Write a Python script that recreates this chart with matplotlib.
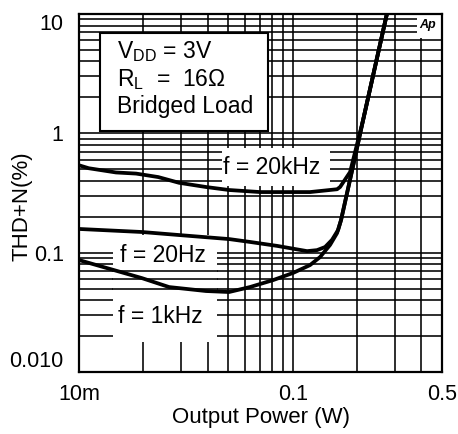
import matplotlib
matplotlib.use("Agg")
import matplotlib.pyplot as plt
from matplotlib.patches import Rectangle
from matplotlib.ticker import NullLocator, FixedLocator

plt.rcParams['font.family'] = ['Liberation Sans', 'DejaVu Sans']
plt.rcParams['mathtext.fontset'] = 'custom'
plt.rcParams['mathtext.rm'] = 'Liberation Sans'
plt.rcParams['mathtext.it'] = 'Liberation Sans:italic'

# ---- data ----
p_20k = [0.01, 0.0111, 0.0149, 0.0185, 0.0235, 0.0294, 0.0393, 0.0504, 0.0704, 0.1206, 0.1614, 0.1667, 0.1857, 0.2136, 0.2767]
thd_20k = [0.54, 0.51, 0.47, 0.46, 0.43, 0.385, 0.355, 0.335, 0.322, 0.322, 0.34, 0.355, 0.474, 1.29, 10.2]

p_20 = [0.01, 0.0197, 0.0294, 0.0504, 0.0631, 0.0845, 0.1168, 0.130, 0.1418, 0.1528, 0.1632, 0.1685, 0.1898, 0.2136, 0.2767]
thd_20 = [0.158, 0.149, 0.1405, 0.130, 0.123, 0.114, 0.103, 0.105, 0.1115, 0.128, 0.155, 0.188, 0.49, 1.29, 10.2]

p_1k = [0.01, 0.0197, 0.0264, 0.0393, 0.0504, 0.0631, 0.081, 0.1004, 0.1206, 0.1343, 0.1496, 0.1614, 0.1685, 0.1898, 0.2136, 0.2767]
thd_1k = [0.0867, 0.0612, 0.0515, 0.0477, 0.0468, 0.0515, 0.0589, 0.0676, 0.0787, 0.0918, 0.116, 0.146, 0.188, 0.49, 1.29, 10.2]

x_ticks = [0.01, 0.1, 0.5]
x_ticklabels = ["10m", "0.1", "0.5"]
y_ticks = [0.01, 0.1, 1, 10]
y_ticklabels = ["0.010", "0.1", "1", "10"]

x_grid = [m * 10.0 ** e for e in (-2, -1) for m in range(1, 10)] + [0.5]
y_grid = [m * 10.0 ** e for e in (-2, -1, 0) for m in range(1, 10)] + [10]

# ---- figure ----
fig = plt.figure(figsize=(4.58, 4.34), dpi=100)
ax = fig.add_axes([79 / 458, 1 - 372 / 434, 363 / 458, 358 / 434])
ax.set_xscale('log')
ax.set_yscale('log')
ax.set_xlim(0.01, 0.5)
ax.set_ylim(0.01, 10)

glw = 1.15
for xv in x_grid:
    ax.axvline(xv, color='black', lw=glw, zorder=1)
for yv in y_grid:
    ax.axhline(yv, color='black', lw=glw, zorder=1)

# white areas behind labels (hide grid)
def wrect(x0, x1, y0, y1):
    r = Rectangle((x0, y0), x1 - x0, y1 - y0, transform=ax.transAxes,
                  facecolor='white', edgecolor='none', zorder=2)
    ax.add_patch(r)

wrect(0.0937, 0.3802, 0.0838, 0.382)   # 20Hz / 1kHz labels region
wrect(0.394, 0.6915, 0.5196, 0.6257)   # 20kHz label
wrect(0.931, 1.0, 0.933, 1.0)          # Ap logo
# horizontal lines that pass over the lower label region
for yv in [0.07, 0.06, 0.05]:
    ax.axhline(yv, xmin=0.0937, xmax=0.3802, color='black', lw=glw, zorder=2.5)

# main text box
box = Rectangle((0.0579, 0.6732), 0.5207 - 0.0579, 0.9469 - 0.6732, transform=ax.transAxes,
                facecolor='white', edgecolor='black', lw=1.5, zorder=3)
ax.add_patch(box)
fs = 16.5
ax.text(0.1047, 0.8939, r"V$_{\mathrm{DD}}$ = 3V", transform=ax.transAxes, fontsize=fs,
        ha='left', va='center', zorder=4)
ax.text(0.1047, 0.8156, r"R$_{\mathrm{L}}$  =  16Ω", transform=ax.transAxes, fontsize=fs,
        ha='left', va='center', zorder=4)
ax.text(0.1047, 0.743, "Bridged Load", transform=ax.transAxes, fontsize=fs,
        ha='left', va='center', zorder=4)

ax.text(0.5317, 0.5726, "f = 20kHz", transform=ax.transAxes, fontsize=16.5, ha='center', va='center', zorder=4)
ax.text(0.230, 0.3268, "f = 20Hz", transform=ax.transAxes, fontsize=16.5, ha='center', va='center', zorder=4)
ax.text(0.2245, 0.1564, "f = 1kHz", transform=ax.transAxes, fontsize=16.5, ha='center', va='center', zorder=4)
ax.text(0.9614, 0.9693, "Ap", transform=ax.transAxes, fontsize=9, fontweight='bold', style='italic',
        ha='center', va='center', zorder=4)

# curves
clw = 2.7
for px, py in [(p_20k, thd_20k), (p_20, thd_20), (p_1k, thd_1k)]:
    ax.plot(px, py, color='black', lw=clw, zorder=5, solid_joinstyle='round')

# axes styling
for s in ax.spines.values():
    s.set_linewidth(1.6)
    s.set_zorder(6)
ax.xaxis.set_major_locator(FixedLocator(x_ticks))
ax.xaxis.set_minor_locator(NullLocator())
ax.yaxis.set_major_locator(FixedLocator(y_ticks))
ax.yaxis.set_minor_locator(NullLocator())
ax.set_xticklabels(x_ticklabels)
ax.set_yticklabels(y_ticklabels)
ax.tick_params(axis='both', length=0, labelsize=15.5)
ax.tick_params(axis='y', pad=11)
ax.tick_params(axis='x', pad=9)
ylabs = ax.get_yticklabels()
ylabs[0].set_va('bottom')
ylabs[-1].set_va('top')

ax.set_xlabel("Output Power (W)", fontsize=16, labelpad=1)
ax.set_ylabel("THD+N(%)", fontsize=16)
ax.yaxis.set_label_coords(-0.128, 0.4637)

fig.savefig("out.png", dpi=100)
